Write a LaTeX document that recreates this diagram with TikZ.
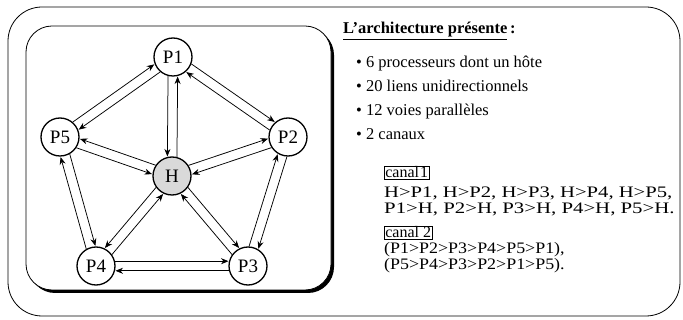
\documentclass[tikz,border=0pt]{standalone}
\usepackage{fontspec}
\setmainfont{Liberation Serif}
\usetikzlibrary{arrows.meta,calc}
\begin{document}
\begin{tikzpicture}[x=1pt,y=-1pt,
  proc/.style={circle,draw,line width=1.3pt,minimum size=38pt,inner sep=0pt,
    fill=white,font=\fontsize{19}{19}\selectfont},
  link/.style={line width=0.75pt,-{Stealth[length=7.5pt,width=6pt]},
    shorten <=19pt, shorten >=19.5pt},
  lane/.style={link,to path={($(\tikztostart)!4.8pt!#1:(\tikztotarget)$) --
    ($(\tikztotarget)!4.8pt!-#1:(\tikztostart)$)}},
  frame/.style={draw,line width=0.8pt,rounded corners=#1},
  tag/.style={draw,line width=0.6pt,inner xsep=1pt,inner ysep=1pt,anchor=base west,
    font=\fontsize{16}{16}\selectfont},
  txt/.style={anchor=base west,inner sep=0pt},
  small/.style={txt,font=\fontsize{16}{16}\selectfont},
]
\useasboundingbox (0,0) rectangle (683,320);
% outer frame
\draw[frame=34pt] (8,7) rectangle (680,316);
% inner box with shadow
\fill[rounded corners=26pt] (29,29) rectangle (334,293);
\draw[frame=26pt,fill=white] (26,26) rectangle (331,290);

% nodes
\node[proc] (P1) at (173,57) {P1};
\node[proc] (P2) at (288,137) {P2};
\node[proc] (P3) at (248,266) {P3};
\node[proc] (P4) at (96,266) {P4};
\node[proc] (P5) at (60,137) {P5};
\node[proc,fill=gray!30] (H) at (172,176) {H};

% ring links
\foreach \a/\b in {P1/P2,P2/P3,P3/P4,P4/P5,P5/P1}{
  \draw[lane=90] (\a) to (\b);
  \draw[lane=90] (\b) to (\a);
}
% hub links
\foreach \p/\s in {P1/-90,P2/90,P3/90,P4/-90,P5/-90}{
  \draw[lane=\s] (H) to (\p);
  \draw[lane=\s] (\p) to (H);
}

% text
\node[txt,font=\fontsize{16.5}{16.5}\selectfont\bfseries] (title) at (343,34)
  {\underline{L'architecture présente}\,:};
\begin{scope}[every node/.style={txt,font=\fontsize{16.5}{16.5}\selectfont}]
\node (b1) at (356,68) {\textbullet\ 6 processeurs dont un hôte};
\node (b2) at (356,92) {\textbullet\ 20 liens unidirectionnels};
\node (b3) at (356,116) {\textbullet\ 12 voies parallèles};
\node (b4) at (356,140) {\textbullet\ 2 canaux};
\end{scope}
\node[tag] (c1) at (384,178) {canal\kern1pt1};
\node[small] (l1) at (384,198) {\scalebox{1.29}[1]{H>P1, H>P2, H>P3, H>P4, H>P5,}};
\node[small] (l2) at (384,214) {\scalebox{1.30}[1]{P1>H, P2>H, P3>H, P4>H, P5>H.}};
\node[tag] (c2) at (384,238) {canal 2};
\node[small] (l3) at (384,254) {\scalebox{1.12}[1]{(P1>P2>P3>P4>P5>P1),}};
\node[small] (l4) at (384,270) {\scalebox{1.12}[1]{(P5>P4>P3>P2>P1>P5).}};
\end{tikzpicture}
\end{document}
